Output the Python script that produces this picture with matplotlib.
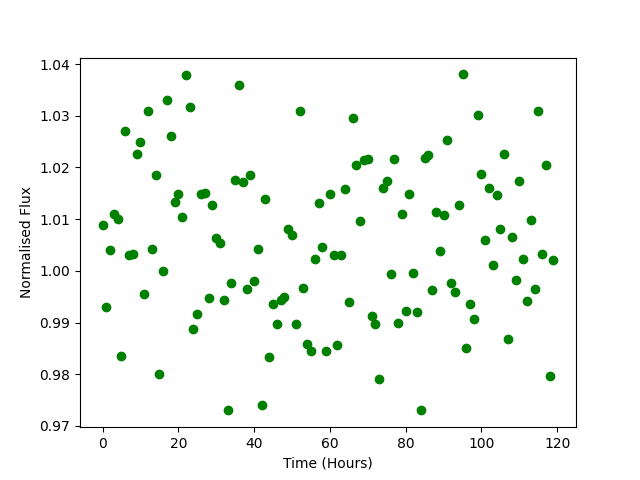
import numpy as np
from matplotlib import pyplot as plt

# hourly normalised flux readings
time = np.arange(120)
flux = [
    1.0088, 0.9930, 1.0040, 1.0110, 1.0100, 0.9836, 1.0270, 1.0030, 1.0032, 1.0226,
    1.0250, 0.9955, 1.0310, 1.0043, 1.0185, 0.9800, 1.0000, 1.0330, 1.0260, 1.0133,
    1.0148, 1.0105, 1.0378, 1.0317, 0.9888, 0.9917, 1.0148, 1.0150, 0.9948, 1.0128,
    1.0063, 1.0053, 0.9944, 0.9730, 0.9977, 1.0176, 1.0359, 1.0171, 0.9964, 1.0185,
    0.9980, 1.0043, 0.9740, 1.0138, 0.9834, 0.9935, 0.9898, 0.9943, 0.9950, 1.0080,
    1.0069, 0.9898, 1.0309, 0.9967, 0.9859, 0.9844, 1.0022, 1.0131, 1.0047, 0.9844,
    1.0148, 1.0030, 0.9856, 1.0030, 1.0158, 0.9939, 1.0296, 1.0205, 1.0096, 1.0214,
    1.0217, 0.9913, 0.9898, 0.9791, 1.0160, 1.0174, 0.9993, 1.0216, 0.9900, 1.0109,
    0.9922, 1.0148, 0.9995, 0.9920, 0.9731, 1.0219, 1.0224, 0.9962, 1.0114, 1.0039,
    1.0108, 1.0254, 0.9977, 0.9960, 1.0128, 1.0380, 0.9850, 0.9935, 0.9907, 1.0302,
    1.0188, 1.0060, 1.0160, 1.0012, 1.0146, 1.0080, 1.0226, 0.9869, 1.0065, 0.9983,
    1.0174, 1.0022, 0.9942, 1.0098, 0.9965, 1.0309, 1.0032, 1.0204, 0.9797, 1.0020,
]

plt.figure(figsize=(6.4, 4.8), dpi=100)
plt.plot(time, flux, "go")
plt.xlabel("Time (Hours)")
plt.ylabel("Normalised Flux")
plt.savefig("out.png")
